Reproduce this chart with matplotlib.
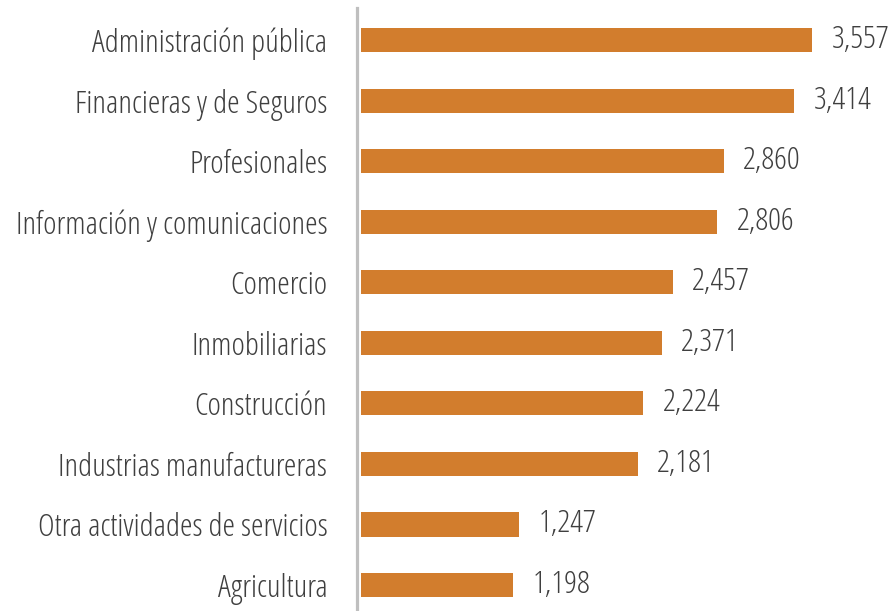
import matplotlib
matplotlib.use("Agg")
import matplotlib.pyplot as plt
from matplotlib import font_manager as fm

sectores = ["Administración pública", "Financieras y de Seguros", "Profesionales",
            "Información y comunicaciones", "Comercio", "Inmobiliarias", "Construcción",
            "Industrias manufactureras", "Otra actividades de servicios", "Agricultura"]
valores = [3557, 3414, 2860, 2806, 2457, 2371, 2224, 2181, 1247, 1198]

# condensed light face, like the original
cond = [f.fname for f in fm.fontManager.ttflist if f.fname.endswith("OpenSans-CondLight.ttf")]
if cond:
    fp = fm.FontProperties(fname=cond[0], size=23)
else:
    fp = fm.FontProperties(family="DejaVu Sans", stretch="condensed", size=17)

naranja = "#D27D2D"
texto = "#3F3F3F"

fig = plt.figure(figsize=(8.95, 6.11), dpi=100)
ax = fig.add_axes([357.2 / 895, 0, 1 - 357.2 / 895, 1 - 8 / 611])

pos = list(range(len(sectores)))
ax.barh(pos, valores, height=0.40, color=naranja)
ax.set_ylim(9.43, -0.53)
ax.set_xlim(-30, 4211)

for y, v in zip(pos, valores):
    ax.text(v + 155, y, "{:,}".format(v), va="center", ha="left",
            fontproperties=fp, color=texto)

ax.set_yticks(pos)
ax.set_yticklabels(sectores, fontproperties=fp, color=texto)
ax.tick_params(axis="y", length=0, pad=21.5)
ax.set_xticks([])
for s in ["top", "right", "bottom"]:
    ax.spines[s].set_visible(False)
ax.spines["left"].set_color("#BFBFBF")
ax.spines["left"].set_linewidth(2.3)

fig.savefig("out.png", dpi=100)
